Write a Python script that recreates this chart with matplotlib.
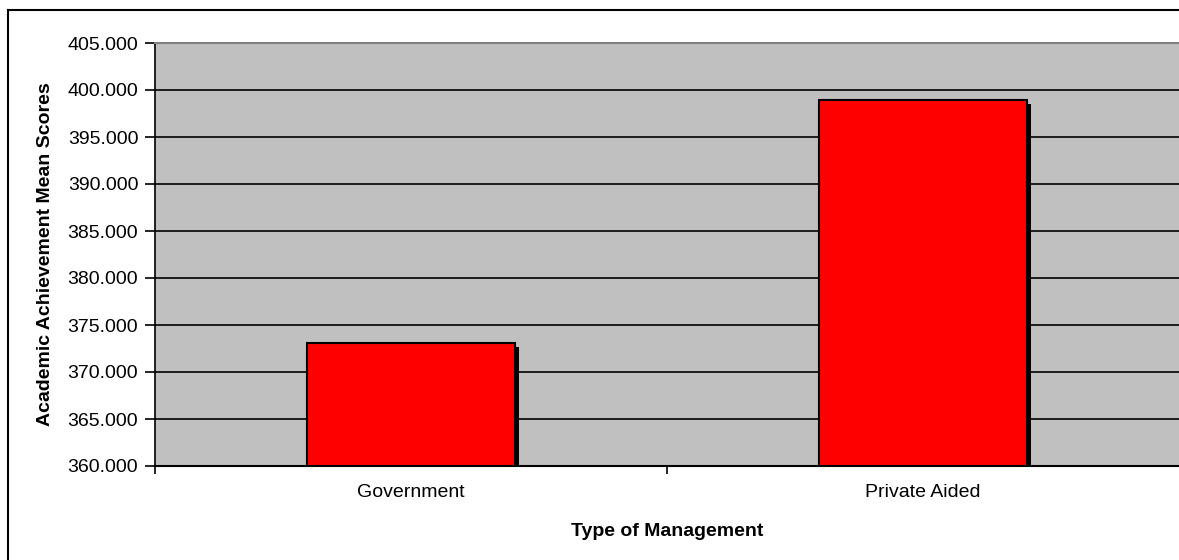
import matplotlib.pyplot as plt
from matplotlib.lines import Line2D
import matplotlib.transforms as mtransforms

plt.rcParams['font.family'] = ['Liberation Sans', 'DejaVu Sans']

categories = ['Government', 'Private Aided']
mean_scores = [373.1, 398.9]
y_ticks = [360, 365, 370, 375, 380, 385, 390, 395, 400, 405]

fig = plt.figure(figsize=(11.79, 5.6), dpi=100)
ax = fig.add_axes([155 / 1179, 94 / 560, 1 - 155 / 1179, (466 - 43) / 560])
ax.set_facecolor('#c0c0c0')

x = list(range(len(categories)))
bar_w = 0.406
heights = [v - 360 for v in mean_scores]

# shadow offset a few pixels right/down, like the Excel original
shadow = mtransforms.offset_copy(ax.transData, fig=fig, x=4, y=-4, units='dots')
ax.bar(x, heights, width=bar_w, bottom=360, color='black', transform=shadow, zorder=2)
ax.bar(x, heights, width=bar_w, bottom=360, color='#ff0000',
       edgecolor='black', linewidth=1.5, zorder=3)

ax.set_xlim(-0.5, 1.5)
ax.set_ylim(360, 405)
ax.set_yticks(y_ticks)
ax.set_yticklabels([f'{t:.3f}' for t in y_ticks], fontsize=14)
ax.yaxis.grid(True, color='black', linewidth=1.2)
ax.set_axisbelow(True)

ax.set_xticks(x)
ax.set_xticklabels(categories, fontsize=14)
ax.tick_params(axis='x', which='major', length=0, pad=13)
ax.set_xticks([-0.5, 0.5], minor=True)
ax.tick_params(axis='x', which='minor', length=6, width=1.2)
ax.tick_params(axis='y', length=7, width=1.2, pad=5)

ax.spines['right'].set_visible(False)
ax.spines['top'].set_color('#808080')
ax.spines['top'].set_linewidth(1.5)
ax.spines['left'].set_linewidth(1.2)
ax.spines['bottom'].set_linewidth(1.5)

ax.set_xlabel('Type of Management', fontsize=14, fontweight='bold', labelpad=16)
ax.set_ylabel('Academic Achievement Mean Scores', fontsize=14, fontweight='bold', labelpad=10)

# outer chart border (top and left edges visible)
fig.add_artist(Line2D([8 / 1179, 8 / 1179], [0, 1 - 10 / 560], color='black', linewidth=1.5))
fig.add_artist(Line2D([8 / 1179, 1], [1 - 10 / 560, 1 - 10 / 560], color='black', linewidth=1.5))

fig.savefig('out.png', dpi=100)
